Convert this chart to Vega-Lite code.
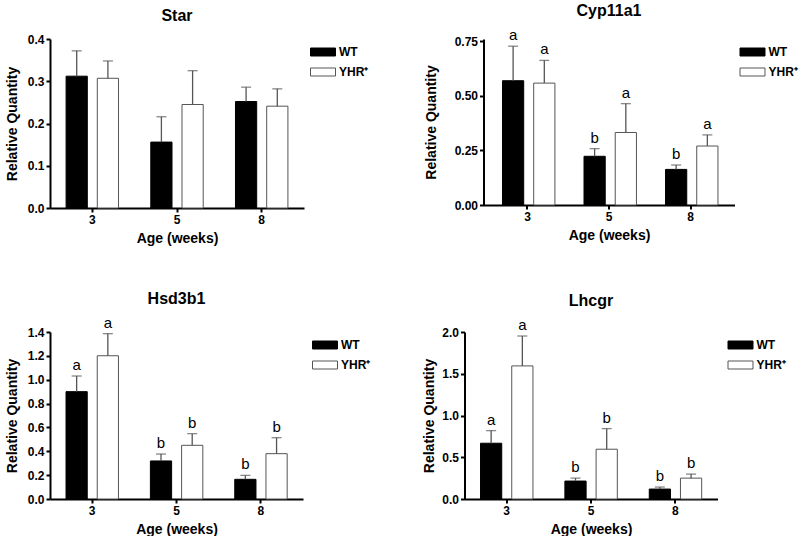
{
  "$schema": "https://vega.github.io/schema/vega-lite/v6.json",
  "background": "white",
  "padding": {"left": 5, "top": 3, "right": 5, "bottom": 0},
  "config": {
    "font": "Liberation Sans",
    "view": {"stroke": null},
    "axis": {"domainColor": "#000", "domainWidth": 2, "tickColor": "#000", "tickWidth": 2, "tickSize": 4, "labelFont": "Liberation Sans", "labelFontWeight": "bold", "labelFontSize": 12, "labelColor": "#000", "labelPadding": 2, "titleFont": "Liberation Sans", "titleFontWeight": "bold", "titleFontSize": 14, "titleColor": "#000", "grid": false},
    "axisX": {"labelAngle": 0, "titlePadding": 6},
    "axisY": {"titlePadding": 8},
    "title": {"font": "Liberation Sans", "fontSize": 16, "fontWeight": "bold", "color": "#000", "offset": 9},
    "legend": {"title": null, "orient": "none", "symbolType": "M-1,-0.32L1,-0.32L1,0.32L-1,0.32Z", "symbolSize": 625, "symbolStrokeWidth": 1, "labelFont": "Liberation Sans", "labelFontSize": 12, "labelFontWeight": "bold", "labelColor": "#000", "labelOffset": 3, "rowPadding": 1}
  },
  "data": {"values": [
    {"gene": "Star", "age": "3", "group": "WT", "mean": 0.312, "upper": 0.372, "letter": ""},
    {"gene": "Star", "age": "3", "group": "YHR⁺", "mean": 0.307, "upper": 0.348, "letter": ""},
    {"gene": "Star", "age": "5", "group": "WT", "mean": 0.156, "upper": 0.216, "letter": ""},
    {"gene": "Star", "age": "5", "group": "YHR⁺", "mean": 0.245, "upper": 0.325, "letter": ""},
    {"gene": "Star", "age": "8", "group": "WT", "mean": 0.252, "upper": 0.286, "letter": ""},
    {"gene": "Star", "age": "8", "group": "YHR⁺", "mean": 0.241, "upper": 0.282, "letter": ""},
    {"gene": "Cyp11a1", "age": "3", "group": "WT", "mean": 0.569, "upper": 0.727, "letter": "a"},
    {"gene": "Cyp11a1", "age": "3", "group": "YHR⁺", "mean": 0.558, "upper": 0.662, "letter": "a"},
    {"gene": "Cyp11a1", "age": "5", "group": "WT", "mean": 0.223, "upper": 0.258, "letter": "b"},
    {"gene": "Cyp11a1", "age": "5", "group": "YHR⁺", "mean": 0.332, "upper": 0.464, "letter": "a"},
    {"gene": "Cyp11a1", "age": "8", "group": "WT", "mean": 0.163, "upper": 0.183, "letter": "b"},
    {"gene": "Cyp11a1", "age": "8", "group": "YHR⁺", "mean": 0.270, "upper": 0.321, "letter": "a"},
    {"gene": "Hsd3b1", "age": "3", "group": "WT", "mean": 0.900, "upper": 1.031, "letter": "a"},
    {"gene": "Hsd3b1", "age": "3", "group": "YHR⁺", "mean": 1.201, "upper": 1.386, "letter": "a"},
    {"gene": "Hsd3b1", "age": "5", "group": "WT", "mean": 0.319, "upper": 0.377, "letter": "b"},
    {"gene": "Hsd3b1", "age": "5", "group": "YHR⁺", "mean": 0.450, "upper": 0.548, "letter": "b"},
    {"gene": "Hsd3b1", "age": "8", "group": "WT", "mean": 0.165, "upper": 0.198, "letter": "b"},
    {"gene": "Hsd3b1", "age": "8", "group": "YHR⁺", "mean": 0.380, "upper": 0.514, "letter": "b"},
    {"gene": "Lhcgr", "age": "3", "group": "WT", "mean": 0.668, "upper": 0.819, "letter": "a"},
    {"gene": "Lhcgr", "age": "3", "group": "YHR⁺", "mean": 1.594, "upper": 1.952, "letter": "a"},
    {"gene": "Lhcgr", "age": "5", "group": "WT", "mean": 0.215, "upper": 0.250, "letter": "b"},
    {"gene": "Lhcgr", "age": "5", "group": "YHR⁺", "mean": 0.596, "upper": 0.843, "letter": "b"},
    {"gene": "Lhcgr", "age": "8", "group": "WT", "mean": 0.119, "upper": 0.143, "letter": "b"},
    {"gene": "Lhcgr", "age": "8", "group": "YHR⁺", "mean": 0.250, "upper": 0.298, "letter": "b"}
  ]},
  "resolve": {"scale": {"x": "independent", "y": "independent", "fill": "independent", "stroke": "independent"}, "legend": {"fill": "independent", "stroke": "independent"}},
  "spacing": 45,
  "vconcat": [
    {
      "spacing": 54.5,
      "resolve": {"scale": {"x": "independent", "y": "independent", "fill": "independent", "stroke": "independent"}, "legend": {"fill": "independent", "stroke": "independent"}},
      "hconcat": [
        {
          "title": "Star",
          "width": 254, "height": 169,
          "transform": [{"filter": "datum.gene === 'Star'"}],
          "encoding": {
            "x": {"field": "age", "type": "nominal", "scale": {"paddingInner": 0.381, "paddingOuter": 0.19}, "axis": {"title": "Age (weeks)"}},
            "xOffset": {"field": "group", "type": "nominal", "scale": {"paddingInner": 0.32, "paddingOuter": 0}}
          },
          "layer": [
            {"mark": {"type": "bar", "strokeWidth": 1},
             "encoding": {
               "y": {"field": "mean", "type": "quantitative", "scale": {"domain": [0, 0.4], "nice": false}, "axis": {"title": "Relative Quantity", "values": [0, 0.1, 0.2, 0.3, 0.4], "format": ".1f"}},
               "fill": {"field": "group", "type": "nominal", "scale": {"domain": ["WT", "YHR⁺"], "range": ["#000000", "#ffffff"]}, "legend": {"legendX": 260, "legendY": 0}},
               "stroke": {"field": "group", "type": "nominal", "scale": {"domain": ["WT", "YHR⁺"], "range": ["#000000", "#555555"]}, "legend": {"legendX": 260, "legendY": 0}}
             }},
            {"mark": {"type": "rule", "color": "#555", "strokeWidth": 1.3},
             "encoding": {"y": {"field": "mean", "type": "quantitative", "axis": {"title": "Relative Quantity", "values": [0, 0.1, 0.2, 0.3, 0.4], "format": ".1f"}}, "y2": {"field": "upper"}}},
            {"mark": {"type": "tick", "color": "#555", "thickness": 1.3, "size": 10},
             "encoding": {"y": {"field": "upper", "type": "quantitative", "axis": {"title": "Relative Quantity", "values": [0, 0.1, 0.2, 0.3, 0.4], "format": ".1f"}}}}
          ]
        },
        {
          "title": "Cyp11a1",
          "width": 251, "height": 166,
          "transform": [{"filter": "datum.gene === 'Cyp11a1'"}],
          "encoding": {
            "x": {"field": "age", "type": "nominal", "scale": {"paddingInner": 0.387, "paddingOuter": 0.233}, "axis": {"title": "Age (weeks)"}},
            "xOffset": {"field": "group", "type": "nominal", "scale": {"paddingInner": 0.32, "paddingOuter": 0}}
          },
          "layer": [
            {"mark": {"type": "bar", "strokeWidth": 1},
             "encoding": {
               "y": {"field": "mean", "type": "quantitative", "scale": {"domain": [0, 0.76], "nice": false}, "axis": {"title": "Relative Quantity", "titlePadding": 16, "values": [0, 0.25, 0.5, 0.75], "format": ".2f"}},
               "fill": {"field": "group", "type": "nominal", "scale": {"domain": ["WT", "YHR⁺"], "range": ["#000000", "#ffffff"]}, "legend": {"legendX": 256, "legendY": 0}},
               "stroke": {"field": "group", "type": "nominal", "scale": {"domain": ["WT", "YHR⁺"], "range": ["#000000", "#555555"]}, "legend": {"legendX": 256, "legendY": 0}}
             }},
            {"mark": {"type": "rule", "color": "#555", "strokeWidth": 1.3},
             "encoding": {"y": {"field": "mean", "type": "quantitative", "axis": {"title": "Relative Quantity", "titlePadding": 16, "values": [0, 0.25, 0.5, 0.75], "format": ".2f"}}, "y2": {"field": "upper"}}},
            {"mark": {"type": "tick", "color": "#555", "thickness": 1.3, "size": 10},
             "encoding": {"y": {"field": "upper", "type": "quantitative", "axis": {"title": "Relative Quantity", "titlePadding": 16, "values": [0, 0.25, 0.5, 0.75], "format": ".2f"}}}},
            {"mark": {"type": "text", "font": "Liberation Sans", "fontSize": 15, "baseline": "alphabetic", "dy": -6, "color": "#000"},
             "encoding": {"y": {"field": "upper", "type": "quantitative", "axis": {"title": "Relative Quantity", "titlePadding": 16, "values": [0, 0.25, 0.5, 0.75], "format": ".2f"}}, "text": {"field": "letter"}}}
          ]
        }
      ]
    },
    {
      "spacing": 51.5,
      "resolve": {"scale": {"x": "independent", "y": "independent", "fill": "independent", "stroke": "independent"}, "legend": {"fill": "independent", "stroke": "independent"}},
      "hconcat": [
        {
          "title": "Hsd3b1",
          "width": 253, "height": 167,
          "transform": [{"filter": "datum.gene === 'Hsd3b1'"}],
          "encoding": {
            "x": {"field": "age", "type": "nominal", "scale": {"paddingInner": 0.381, "paddingOuter": 0.19}, "axis": {"title": "Age (weeks)"}},
            "xOffset": {"field": "group", "type": "nominal", "scale": {"paddingInner": 0.32, "paddingOuter": 0}}
          },
          "layer": [
            {"mark": {"type": "bar", "strokeWidth": 1},
             "encoding": {
               "y": {"field": "mean", "type": "quantitative", "scale": {"domain": [0, 1.4], "nice": false}, "axis": {"title": "Relative Quantity", "values": [0, 0.2, 0.4, 0.6, 0.8, 1.0, 1.2, 1.4], "format": ".1f"}},
               "fill": {"field": "group", "type": "nominal", "scale": {"domain": ["WT", "YHR⁺"], "range": ["#000000", "#ffffff"]}, "legend": {"legendX": 262, "legendY": 0}},
               "stroke": {"field": "group", "type": "nominal", "scale": {"domain": ["WT", "YHR⁺"], "range": ["#000000", "#555555"]}, "legend": {"legendX": 262, "legendY": 0}}
             }},
            {"mark": {"type": "rule", "color": "#555", "strokeWidth": 1.3},
             "encoding": {"y": {"field": "mean", "type": "quantitative", "axis": {"title": "Relative Quantity", "values": [0, 0.2, 0.4, 0.6, 0.8, 1.0, 1.2, 1.4], "format": ".1f"}}, "y2": {"field": "upper"}}},
            {"mark": {"type": "tick", "color": "#555", "thickness": 1.3, "size": 10},
             "encoding": {"y": {"field": "upper", "type": "quantitative", "axis": {"title": "Relative Quantity", "values": [0, 0.2, 0.4, 0.6, 0.8, 1.0, 1.2, 1.4], "format": ".1f"}}}},
            {"mark": {"type": "text", "font": "Liberation Sans", "fontSize": 15, "baseline": "alphabetic", "dy": -6, "color": "#000"},
             "encoding": {"y": {"field": "upper", "type": "quantitative", "axis": {"title": "Relative Quantity", "values": [0, 0.2, 0.4, 0.6, 0.8, 1.0, 1.2, 1.4], "format": ".1f"}}, "text": {"field": "letter"}}}
          ]
        },
        {
          "title": "Lhcgr",
          "width": 253, "height": 167,
          "transform": [{"filter": "datum.gene === 'Lhcgr'"}],
          "encoding": {
            "x": {"field": "age", "type": "nominal", "scale": {"paddingInner": 0.381, "paddingOuter": 0.19}, "axis": {"title": "Age (weeks)"}},
            "xOffset": {"field": "group", "type": "nominal", "scale": {"paddingInner": 0.32, "paddingOuter": 0}}
          },
          "layer": [
            {"mark": {"type": "bar", "strokeWidth": 1},
             "encoding": {
               "y": {"field": "mean", "type": "quantitative", "scale": {"domain": [0, 2.0], "nice": false}, "axis": {"title": "Relative Quantity", "titlePadding": 5, "values": [0, 0.5, 1.0, 1.5, 2.0], "format": ".1f"}},
               "fill": {"field": "group", "type": "nominal", "scale": {"domain": ["WT", "YHR⁺"], "range": ["#000000", "#ffffff"]}, "legend": {"legendX": 263, "legendY": 0}},
               "stroke": {"field": "group", "type": "nominal", "scale": {"domain": ["WT", "YHR⁺"], "range": ["#000000", "#555555"]}, "legend": {"legendX": 263, "legendY": 0}}
             }},
            {"mark": {"type": "rule", "color": "#555", "strokeWidth": 1.3},
             "encoding": {"y": {"field": "mean", "type": "quantitative", "axis": {"title": "Relative Quantity", "titlePadding": 5, "values": [0, 0.5, 1.0, 1.5, 2.0], "format": ".1f"}}, "y2": {"field": "upper"}}},
            {"mark": {"type": "tick", "color": "#555", "thickness": 1.3, "size": 10},
             "encoding": {"y": {"field": "upper", "type": "quantitative", "axis": {"title": "Relative Quantity", "titlePadding": 5, "values": [0, 0.5, 1.0, 1.5, 2.0], "format": ".1f"}}}},
            {"mark": {"type": "text", "font": "Liberation Sans", "fontSize": 15, "baseline": "alphabetic", "dy": -6, "color": "#000"},
             "encoding": {"y": {"field": "upper", "type": "quantitative", "axis": {"title": "Relative Quantity", "titlePadding": 5, "values": [0, 0.5, 1.0, 1.5, 2.0], "format": ".1f"}}, "text": {"field": "letter"}}}
          ]
        }
      ]
    }
  ]
}
